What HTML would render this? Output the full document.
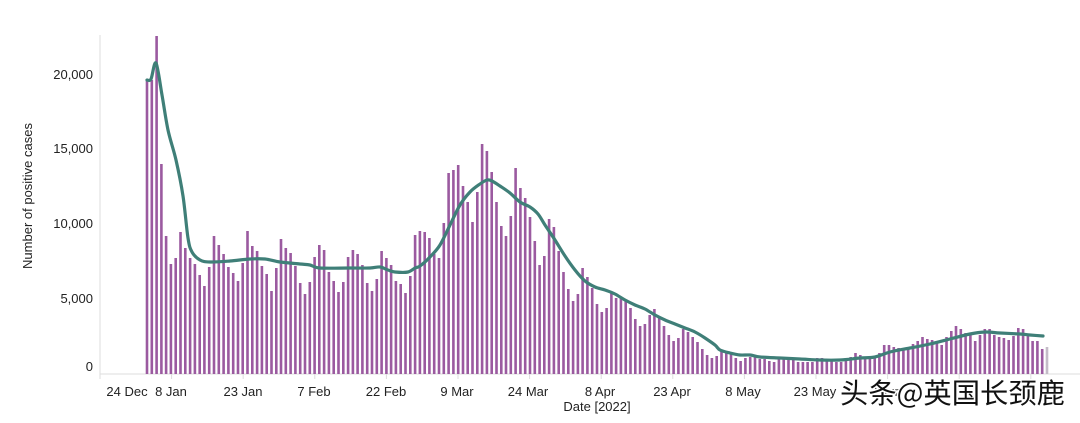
<!DOCTYPE html>
<html><head><meta charset="utf-8"><style>
html,body{margin:0;padding:0;background:#fff;}
svg{display:block;font-family:"Liberation Sans",Arial,sans-serif;}
</style></head><body>
<svg id="c" width="1080" height="423" viewBox="0 0 1080 423" xmlns="http://www.w3.org/2000/svg">
<line x1="100" y1="35" x2="100" y2="374" stroke="#ddd" stroke-width="1"/>
<line x1="100" y1="374" x2="1080" y2="374" stroke="#ddd" stroke-width="1"/>
<g font-size="13" fill="#222" text-anchor="end">
<text x="93" y="79">20,000</text>
<text x="93" y="153">15,000</text>
<text x="93" y="228">10,000</text>
<text x="93" y="303">5,000</text>
<text x="93" y="371">0</text>
</g>
<text transform="translate(32,196) rotate(-90)" font-size="13" fill="#222" text-anchor="middle">Number of positive cases</text>
<g id="bars"></g>
<path id="ln" fill="none" stroke="#3f7f78" stroke-width="3.2" stroke-linejoin="round" stroke-linecap="round"/>
<g id="ticks" stroke="#ddd"></g>
<g font-size="13" fill="#222" text-anchor="middle">
<text x="127" y="396">24 Dec</text>
<text x="171" y="396">8 Jan</text>
<text x="243" y="396">23 Jan</text>
<text x="314" y="396">7 Feb</text>
<text x="386" y="396">22 Feb</text>
<text x="457" y="396">9 Mar</text>
<text x="528" y="396">24 Mar</text>
<text x="600" y="396">8 Apr</text>
<text x="672" y="396">23 Apr</text>
<text x="743" y="396">8 May</text>
<text x="815" y="396">23 May</text>
<text x="886" y="396">8 Jun</text>
<text x="597" y="411">Date [2022]</text>
</g>
<text x="840" y="403" font-family="'Noto Sans CJK SC',sans-serif" font-size="28" textLength="225" lengthAdjust="spacingAndGlyphs" fill="#111" stroke="#fff" stroke-width="3" paint-order="stroke">头条@英国长颈鹿</text>
</svg>
<script>
var tops=[80,80,36,164,
236,264,258,232,248,258,264,275,286,267,236,245,254,267,273,281,263,231,246,251,266,274,291,268,239,248,253,266,283,294,282,257,245,250,272,281,292,282,257,250,254,265,283,291,279,251,258,265,281,
284,293,276,235,231,232,238,254,258,223,173,170,165,186,202,222,192,144,151,172,202,226,236,216,168,188,198,217,241,265,256,219,227,251,272,289,301,294,268,277,288,304,312,308,293,298,297,301,308,319,326,324,315,309,318,326,335,341,338,329,332,337,342,349,355,358,356,
351,353,354,358,361,358,357,357,359,359,361,362,359,359,359,360,362,362,362,362,358,358,359,360,362,362,360,357,353,355,357,357,356,353,
345,345,347,348,349,349,344,341,337,339,340,343,345,337,331,326,329,333,335,341,335,329,329,335,337,338,340,336,328,329,335,341,341,349,347];
var s='',n=tops.length,step=(1047-147)/(n-1);
for(var i=0;i<n;i++){var x=147+i*step;s+='<rect x="'+(x-1.3).toFixed(1)+'" y="'+tops[i]+'" width="2.6" height="'+(374-tops[i])+'" fill="'+(i==n-1?'#c4bcc8':'#9b5aa0')+'"/>';}
document.getElementById('bars').innerHTML=s;
var t='';for(var k=0;k<14;k++){var tx=100+k*71.6;t+='<line x1="'+tx+'" y1="374" x2="'+tx+'" y2="379"/>';}
document.getElementById('ticks').innerHTML=t;
var p=[[147,80],[151,79],[156,63],[162,95],[168,130],[176,160],[183,196],[188,238],[192,252],[200,260],[210,262],[230,261],[250,259],[265,259],[280,262],[300,264],[310,265],[320,268],[350,268],[370,268],[380,267],[388,270],[395,272],[408,272],[415,268],[420,266],[430,257],[440,245],[450,225],[460,205],[470,192],[480,184],[487,180],[492,181],[500,186],[510,193],[520,202],[530,207],[538,214],[545,225],[555,240],[565,256],[575,270],[585,281],[595,287],[605,290],[615,294],[625,300],[635,305],[645,309],[655,315],[665,320],[675,324],[685,328],[695,332],[705,338],[715,345],[720,350],[730,353],[740,355],[750,355],[760,357],[780,358],[800,359],[820,360],[840,360],[860,358],[875,357],[890,352],[910,348],[930,344],[950,339],[970,334],[985,332],[1000,333],[1020,334],[1030,335],[1043,336]];
var d='M'+p[0][0]+','+p[0][1];
for(var j=1;j<p.length;j++){var p0=p[Math.max(0,j-2)],p1=p[j-1],p2=p[j],p3=p[Math.min(p.length-1,j+1)];
d+=' C'+(p1[0]+(p2[0]-p0[0])/6).toFixed(1)+','+(p1[1]+(p2[1]-p0[1])/6).toFixed(1)+' '+(p2[0]-(p3[0]-p1[0])/6).toFixed(1)+','+(p2[1]-(p3[1]-p1[1])/6).toFixed(1)+' '+p2[0]+','+p2[1];}
document.getElementById('ln').setAttribute('d',d);
</script>
</body></html>
